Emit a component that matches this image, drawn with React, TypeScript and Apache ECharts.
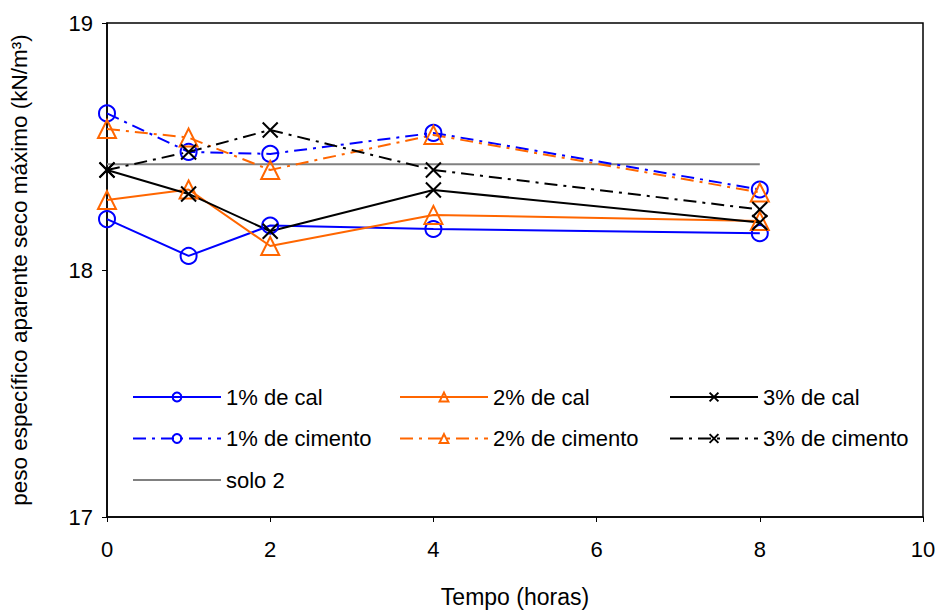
import React, { useEffect, useRef } from "react";
import * as echarts from "echarts";

const times = [0, 1, 2, 4, 8];
const cal1 = [18.206, 18.057, 18.18, 18.166, 18.149];
const cal2 = [18.283, 18.326, 18.097, 18.223, 18.198];
const cal3 = [18.405, 18.308, 18.157, 18.324, 18.192];
const cim1 = [18.634, 18.478, 18.47, 18.555, 18.326];
const cim2 = [18.571, 18.536, 18.405, 18.547, 18.314];
const cim3 = [18.405, 18.478, 18.567, 18.405, 18.245];
const soloX = [0, 8];
const soloY = [18.428, 18.428];

const BLUE = "#0000FF";
const ORANGE = "#FF6600";
const BLACK = "#000000";
const GREY = "#808080";
const FONT = "Liberation Sans";
const CROSS = "path://M0,0L10,10M10,0L0,10";
const DASHDOT = [13, 6, 3, 6];

const pairs = (xs: number[], ys: number[]) => xs.map((x, i) => [x, ys[i]]);

function mk(name: string, ys: number[], color: string, symbol: string, dashed: boolean) {
  return {
    name,
    type: "line",
    data: pairs(times, ys),
    symbol,
    symbolSize: symbol === CROSS ? 15 : symbol === "triangle" ? 18 : 16,
    showSymbol: true,
    lineStyle: { color, width: 2, type: dashed ? DASHDOT : "solid" },
    itemStyle: { color: "rgba(0,0,0,0)", borderColor: color, borderWidth: 2 },
    emphasis: { disabled: true },
    z: 3,
  };
}

export default function App() {
  const ref = useRef<HTMLDivElement>(null);
  useEffect(() => {
    if (!ref.current) return;
    const chart = echarts.init(ref.current, null, { renderer: "svg" });
    const legendBase = {
      orient: "vertical",
      itemWidth: 88,
      itemHeight: 11,
      itemGap: 19.5,
      textStyle: { fontFamily: FONT, fontSize: 22, color: "#000" },
      selectedMode: false,
      top: 381,
    };
    chart.setOption({
      animation: false,
      backgroundColor: "#fff",
      grid: { left: 107, right: 18, top: 23, bottom: 99, show: true, borderColor: "#000", borderWidth: 1.5 },
      legend: [
        {
          ...legendBase,
          left: 127,
          data: [
            "1% de cal",
            "1% de cimento",
            { name: "solo 2", itemStyle: { color: "rgba(0,0,0,0)", borderColor: "rgba(0,0,0,0)" } },
          ],
        },
        { ...legendBase, left: 394, data: ["2% de cal", "2% de cimento"] },
        { ...legendBase, left: 664, data: ["3% de cal", "3% de cimento"] },
      ],
      xAxis: {
        type: "value",
        min: 0,
        max: 10,
        interval: 2,
        name: "Tempo (horas)",
        nameLocation: "middle",
        nameGap: 68,
        nameTextStyle: { fontFamily: FONT, fontSize: 23, color: "#000" },
        axisLine: { lineStyle: { color: "#000", width: 1.5 } },
        axisTick: { show: true, length: 5, lineStyle: { color: "#000" } },
        axisLabel: { fontFamily: FONT, fontSize: 22, color: "#000", margin: 21 },
        splitLine: { show: false },
      },
      yAxis: {
        type: "value",
        min: 17,
        max: 19,
        interval: 1,
        name: "peso específico aparente seco máximo (kN/m³)",
        nameLocation: "middle",
        nameGap: 76,
        nameTextStyle: { fontFamily: FONT, fontSize: 22.5, color: "#000" },
        axisLine: { show: true, lineStyle: { color: "#000", width: 1.5 } },
        axisTick: { show: true, length: 5, lineStyle: { color: "#000" } },
        axisLabel: { fontFamily: FONT, fontSize: 22, color: "#000", margin: 14 },
        splitLine: { show: false },
      },
      series: [
        mk("1% de cal", cal1, BLUE, "circle", false),
        mk("2% de cal", cal2, ORANGE, "triangle", false),
        mk("3% de cal", cal3, BLACK, CROSS, false),
        mk("1% de cimento", cim1, BLUE, "circle", true),
        mk("2% de cimento", cim2, ORANGE, "triangle", true),
        mk("3% de cimento", cim3, BLACK, CROSS, true),
        {
          name: "solo 2",
          type: "line",
          data: pairs(soloX, soloY),
          symbol: "none",
          lineStyle: { color: GREY, width: 2 },
          itemStyle: { color: GREY },
          emphasis: { disabled: true },
          z: 2,
        },
      ],
    });
    return () => chart.dispose();
  }, []);
  return <div ref={ref} style={{ width: 941, height: 616, position: "absolute", left: 0, top: 0 }} />;
}
